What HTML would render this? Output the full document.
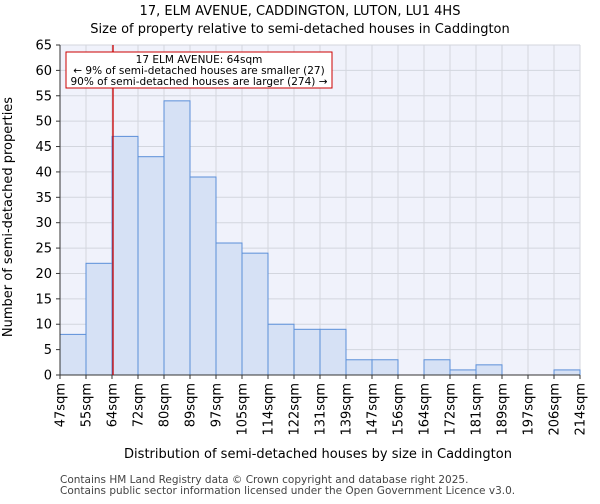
<!DOCTYPE html>
<html><head><style>
body{margin:0;background:#fff;font-family:"DejaVu Sans","Liberation Sans",sans-serif;}
</style></head><body>
<svg width="600" height="500" xmlns="http://www.w3.org/2000/svg" font-family="DejaVu Sans, Liberation Sans, sans-serif">
<text x="300" y="15" text-anchor="middle" font-size="13">17, ELM AVENUE, CADDINGTON, LUTON, LU1 4HS</text>
<text x="300" y="33" text-anchor="middle" font-size="13">Size of property relative to semi-detached houses in Caddington</text>
<rect x="60" y="45" width="520" height="330" fill="#f0f2fb"/>
<g id="grid"></g>
<g id="bars"></g>
<g id="axes"></g>
<line id="marker" stroke="#cc0000" stroke-width="1.3"/>
<rect x="66" y="52" width="266" height="36" fill="#fff" stroke="#cc0000" stroke-width="1"/>
<text x="199" y="63" text-anchor="middle" font-size="10.5">17 ELM AVENUE: 64sqm</text>
<text x="199" y="74" text-anchor="middle" font-size="10.5">← 9% of semi-detached houses are smaller (27)</text>
<text x="199" y="85" text-anchor="middle" font-size="10.5">90% of semi-detached houses are larger (274) →</text>
<text x="318" y="458" text-anchor="middle" font-size="13">Distribution of semi-detached houses by size in Caddington</text>
<text transform="translate(12,217) rotate(-90)" text-anchor="middle" font-size="13">Number of semi-detached properties</text>
<text x="60" y="483" font-size="10.5" fill="#444">Contains HM Land Registry data © Crown copyright and database right 2025.</text>
<text x="60" y="494" font-size="10.5" fill="#444">Contains public sector information licensed under the Open Government Licence v3.0.</text>
</svg>
<script>
const categories=["47sqm","55sqm","64sqm","72sqm","80sqm","89sqm","97sqm","105sqm","114sqm","122sqm","131sqm","139sqm","147sqm","156sqm","164sqm","172sqm","181sqm","189sqm","197sqm","206sqm","214sqm"];
const counts=[8,22,47,43,54,39,26,24,10,9,9,3,3,0,3,1,2,0,0,1];
const yTicks=[0,5,10,15,20,25,30,35,40,45,50,55,60,65];
const markerIndex=2;
const X0=60,X1=580,Y0=375,Y1=45,YMAX=65;
const bw=(X1-X0)/counts.length;
const xs=i=>X0+i*bw;
const ys=v=>Y0-(v/YMAX)*(Y0-Y1);
const NS="http://www.w3.org/2000/svg";
function mk(tag,attrs,parent){const e=document.createElementNS(NS,tag);for(const k in attrs)e.setAttribute(k,attrs[k]);document.getElementById(parent).appendChild(e);return e;}
yTicks.forEach(t=>{
 const g=mk("line",{x1:X0,x2:X1,y1:ys(t),y2:ys(t),stroke:"#d3d6de","stroke-width":1},"grid");
 
 
 const tk=mk("line",{x1:X0-4,x2:X0,y1:ys(t),y2:ys(t),stroke:"#333"},"axes");
 
 
 const lb=mk("text",{x:X0-8,y:ys(t)+4.5,"text-anchor":"end","font-size":13},"axes");
 lb.textContent=t;
 
 
});
categories.forEach((c,i)=>{
 const x=xs(i);
 const g=mk("line",{x1:x,x2:x,y1:Y1,y2:Y0,stroke:"#d3d6de","stroke-width":1},"grid");
 
 
 const tk=mk("line",{x1:x,x2:x,y1:Y0,y2:Y0+4,stroke:"#333"},"axes");
 
 
 const lb=mk("text",{transform:`translate(${x+4.5},${Y0+8}) rotate(-90)`,"text-anchor":"end","font-size":13},"axes");
 lb.textContent=c;
 
 
});
counts.forEach((v,i)=>{
 const r=mk("rect",{x:xs(i),y:ys(v),width:bw,height:Y0-ys(v),fill:"#d6e1f5",stroke:"#5b8fd8","stroke-width":1},"bars");
 
 
});
const ax=mk("line",{x1:X0,x2:X0,y1:Y1,y2:Y0,stroke:"#333"},"axes");


const bx=mk("line",{x1:X0,x2:X1,y1:Y0,y2:Y0,stroke:"#333"},"axes");


const m=document.getElementById("marker");
m.setAttribute("x1",xs(markerIndex)+1);m.setAttribute("x2",xs(markerIndex)+1);
m.setAttribute("y1",Y1);m.setAttribute("y2",Y0);
</script>
</body></html>
